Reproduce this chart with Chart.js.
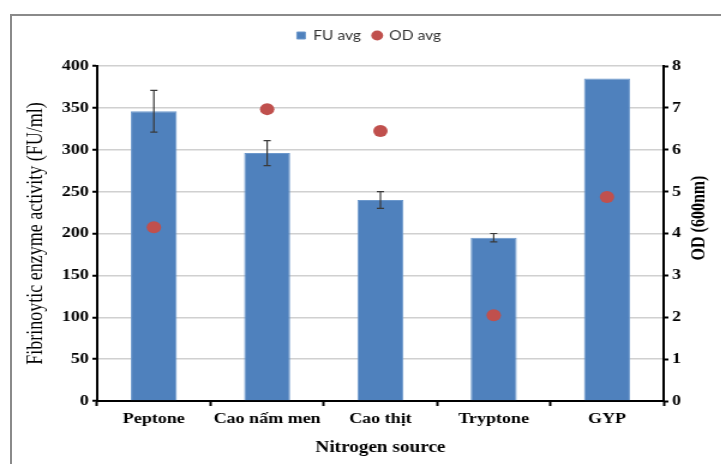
<!DOCTYPE html>
<html>
<head>
<meta charset="utf-8">
<script src="https://cdn.jsdelivr.net/npm/chart.js@4/dist/chart.umd.min.js"></script>
<style>
  html, body { margin: 0; padding: 0; background: #fff; }
  body { width: 721px; height: 464px; overflow: hidden; position: relative; }
  #frame { position: absolute; left: 10px; top: 14px; width: 720px; height: 460px;
           border-top: 2px solid #8a8a8a; border-left: 2px solid #8a8a8a; }
  #wrap { position: absolute; left: 0; top: 0; transform: scaleX(1.2); transform-origin: 0 0; }
</style>
</head>
<body>
<div id="frame"></div>
<div id="wrap"><canvas id="c" width="601" height="464"></canvas></div>
<script>
const categories = ['Peptone', 'Cao nấm men', 'Cao thịt', 'Tryptone', 'GYP'];
const fuAvg = [346, 296, 240, 195, 385];
const fuErr = [25, 15, 10, 5, 0];
const odAvg = [4.15, 6.97, 6.45, 2.05, 4.87];

const serif = "'Liberation Serif', 'Times New Roman', serif";

const errorBars = {
  id: 'errorBars',
  afterDatasetsDraw(chart) {
    const meta = chart.getDatasetMeta(0);
    const y = chart.scales.y;
    const ctx = chart.ctx;
    ctx.save();
    ctx.strokeStyle = '#3a3a3a';
    ctx.lineWidth = 1.2;
    meta.data.forEach((bar, i) => {
      const e = fuErr[i];
      if (!e) return;
      const yt = y.getPixelForValue(fuAvg[i] + e);
      const yb = y.getPixelForValue(fuAvg[i] - e);
      ctx.beginPath();
      ctx.moveTo(bar.x, yt); ctx.lineTo(bar.x, yb);
      ctx.moveTo(bar.x - 3, yt); ctx.lineTo(bar.x + 3, yt);
      ctx.moveTo(bar.x - 3, yb); ctx.lineTo(bar.x + 3, yb);
      ctx.stroke();
    });
    ctx.restore();
  }
};

const rightTitle = {
  id: 'rightTitle',
  afterDraw(chart) {
    const ctx = chart.ctx;
    const s = chart.scales.y1;
    ctx.save();
    ctx.translate(s.right - 18, 218);
    ctx.rotate(-Math.PI / 2);
    ctx.font = 'bold 16px ' + serif;
    ctx.fillStyle = '#000';
    ctx.textAlign = 'center';
    ctx.textBaseline = 'middle';
    ctx.fillText('OD (600nm)', 0, 0);
    ctx.restore();
  }
};

const legendGap = {
  id: 'legendGap',
  afterInit(chart) {
    const lg = chart.legend;
    if (!lg) return;
    const orig = lg.fit;
    lg.fit = function () { orig.call(this); this.height += 14; };
  }
};

new Chart(document.getElementById('c'), {
  data: {
    labels: categories,
    datasets: [
      {
        type: 'bar', label: 'FU avg', data: fuAvg, yAxisID: 'y',
        backgroundColor: '#4F81BD', borderColor: '#6C98CC', borderWidth: 1,
        barPercentage: 0.406, categoryPercentage: 1, pointStyle: 'rect', order: 2
      },
      {
        type: 'line', label: 'OD avg', data: odAvg, yAxisID: 'y1', showLine: false,
        backgroundColor: '#C0504D', borderColor: '#C0504D', pointRadius: 6,
        pointHoverRadius: 6, pointBorderWidth: 0, pointStyle: 'circle', order: 1
      }
    ]
  },
  options: {
    responsive: false,
    animation: false,
    layout: { padding: { left: 14, right: 0, top: 19, bottom: 4 } },
    plugins: {
      tooltip: { enabled: false },
      legend: {
        position: 'top',
        labels: {
          usePointStyle: true, boxWidth: 7, boxHeight: 7, padding: 10,
          font: { family: "Lato, 'Open Sans', sans-serif", size: 13 }, color: '#333333',
          sort: (a, b) => a.datasetIndex - b.datasetIndex
        }
      }
    },
    scales: {
      x: {
        offset: true,
        grid: { drawOnChartArea: false, drawTicks: true, tickLength: 5, tickColor: '#000', tickWidth: 2, offset: true },
        border: { color: '#000', width: 2 },
        ticks: { padding: 4, color: '#000', maxRotation: 0, minRotation: 0, autoSkip: false,
                 font: { family: serif, size: 15, weight: 'bold' } },
        title: { display: true, text: 'Nitrogen source', color: '#000', padding: { top: 0, bottom: 3 },
                 font: { family: serif, size: 16, weight: 'bold' } },
        afterFit(s) { s.height = 59; }
      },
      y: {
        position: 'left', min: 0, max: 400,
        ticks: { stepSize: 50, padding: 3, color: '#000', font: { family: serif, size: 15, weight: 'bold' } },
        grid: { color: '#d0d0d0', lineWidth: 1.5, tickLength: 4, tickColor: '#000', tickWidth: 2 },
        border: { color: '#000', width: 2 },
        title: { display: true, text: 'Fibrinoytic enzyme activity (FU/ml)', color: '#000',
                 padding: { top: 5, bottom: 0 }, font: { family: serif, size: 18 } },
        afterFit(s) { s.width = 67; }
      },
      y1: {
        position: 'right', min: 0, max: 8,
        ticks: { stepSize: 1, padding: 3, color: '#000', font: { family: serif, size: 15, weight: 'bold' } },
        grid: { drawOnChartArea: false, tickLength: 4, tickColor: '#000', tickWidth: 2 },
        border: { color: '#000', width: 2 },
        afterFit(s) { s.width = 48; }
      }
    }
  },
  plugins: [errorBars, rightTitle, legendGap]
});
</script>
</body>
</html>
